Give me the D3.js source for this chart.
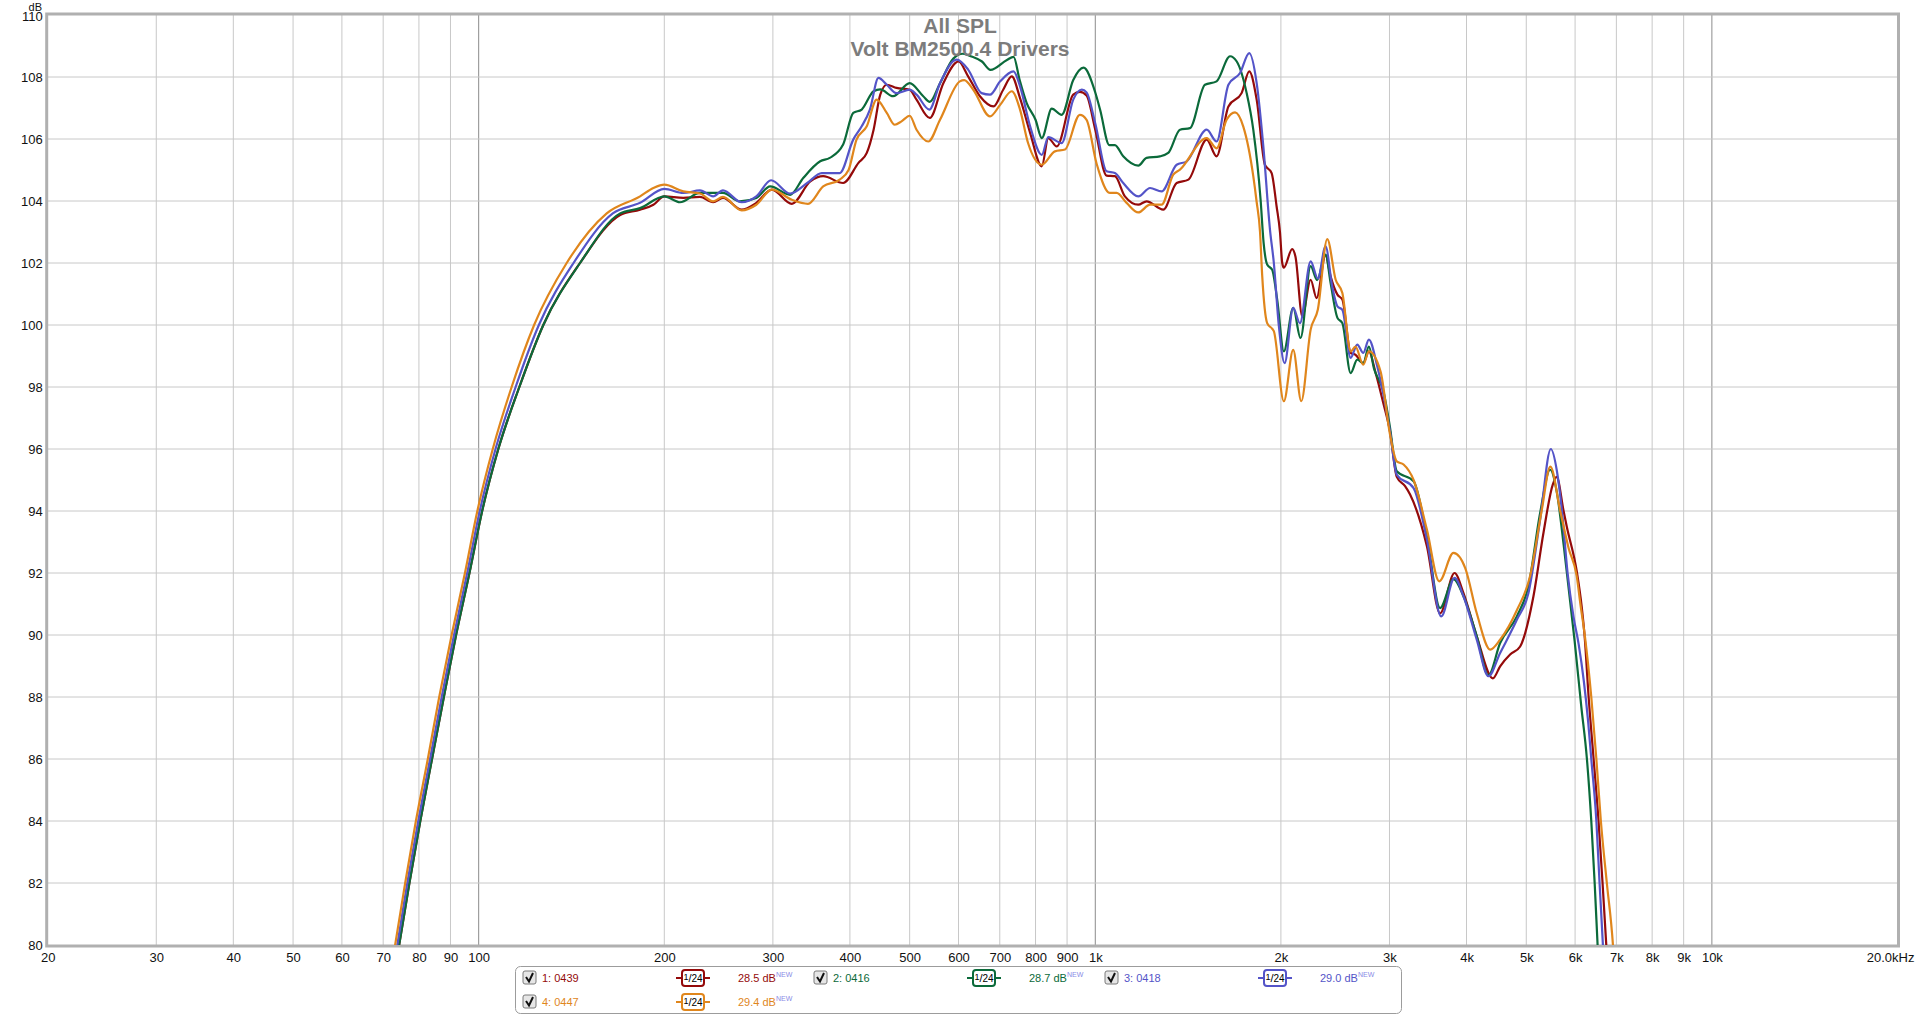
<!DOCTYPE html>
<html><head><meta charset="utf-8">
<script src="https://cdn.jsdelivr.net/npm/d3@7"></script>
<style>
body{margin:0;background:#fff;overflow:hidden}
text{font-family:Arial,"Liberation Sans",sans-serif}
</style>
</head><body>
<svg id="chart" width="1920" height="1016"></svg>
<script>
// ---------- data ----------
const titleLines = ["All SPL", "Volt BM2500.4 Drivers"];
const freqTicks = [20,30,40,50,60,70,80,90,100,200,300,400,500,600,700,800,900,1000,2000,3000,4000,5000,6000,7000,8000,9000,10000,20000];
const freqTickLabels = ["20","30","40","50","60","70","80","90","100","200","300","400","500","600","700","800","900","1k","2k","3k","4k","5k","6k","7k","8k","9k","10k","20.0kHz"];
const dbTicks = [80,82,84,86,88,90,92,94,96,98,100,102,104,106,108,110];
const seriesNames = ["1: 0439","2: 0416","3: 0418","4: 0447"];
const seriesLevels = ["28.5 dB","28.7 dB","29.0 dB","29.4 dB"];
const seriesColors = ["#940a0a","#0b6a3a","#5454c8","#e0861c"];

const freqRed = [70,74.3,77.2,80.4,84,87.8,91.9,96.6,101.3,107.6,116.4,127.3,146,169.6,182.7,192,200,214.7,228.5,240,249,267,282,298.8,322,345,362,390,413,426,437,448,459,476,500,513,539,567,600,622,650,684,709,732,755,784,819,839,866,921,944,968,1000,1043,1076,1117,1174,1211,1289,1355,1416,1516,1573,1644,1727,1777,1827,1884,1932,1968,1993,2010,2022,2086,2112,2166,2235,2285,2363,2408,2470,2516,2595,2642,2720,2778,2849,2930,3004,3083,3180,3240,3450,3624,3825,3955,4156,4413,4535,4707,4887,5136,5332,5520,5600,5748,5816,6038,6151,6215,6311,6430,6549,6648,6741,6900];
const splRed = [77.2,80,82,84,86,88,90,92,94,96,98,100,102,103.55,103.72,103.88,104.15,104.1,104.13,103.96,104.1,103.72,103.94,104.37,103.91,104.63,104.8,104.58,105.23,105.55,106.3,107.43,107.75,107.65,107.59,107.27,106.68,107.8,108.5,108.02,107.38,107.05,107.59,108.02,107.32,106.2,105.12,106.03,105.76,107.43,107.52,107.4,106.3,104.82,104.8,104.15,103.88,103.99,103.72,104.58,104.69,105.98,105.44,107.05,107.48,108.18,107.27,105.17,104.9,103.83,103.0,102.0,101.85,102.45,102.2,100.28,101.46,100.87,102.25,101.57,100.98,100.82,99.1,99.04,98.77,99.15,98.45,97.5,96.6,95.1,94.8,94.53,92.86,90.7,92.0,91.35,89.96,88.6,88.99,89.37,89.63,91.25,93.3,94.85,95.1,94.0,93.5,92.05,90.9,90.0,88.0,86.0,84.0,82.0,80.0,76.5];

const freqGreen = [70,74.3,77.2,80.4,84,87.8,91.9,96.6,101.3,107.6,116.4,127.3,146,169.6,182.7,200,212,228.5,249,265,282,297,320,336,358,371,390,405,418,437,448,470,500,526,539,560,589,610,630,655,676,719,737,754,774,800,819,850,882,921,957,1000,1018,1054,1076,1110,1174,1211,1273,1313,1372,1424,1506,1573,1654,1696,1760,1804,1854,1875,1900,1936,1973,2022,2094,2152,2235,2290,2363,2408,2470,2516,2595,2660,2720,2778,2831,2938,3004,3083,3283,3450,3624,3810,3955,4156,4341,4535,4827,5040,5266,5466,5605,5750,5850,5990,6140,6271,6374,6455,6526,6680];
const splGreen = [77.2,80,82,84,86,88,90,92,94,96,98,100,102,103.6,103.77,104.15,103.96,104.26,104.26,103.99,104.1,104.47,104.2,104.74,105.28,105.39,105.82,106.84,106.95,107.54,107.6,107.38,107.8,107.38,107.2,107.8,108.6,108.75,108.66,108.5,108.23,108.55,108.65,107.9,107.16,106.62,106.03,106.98,106.78,107.9,108.3,107.5,106.95,105.8,105.8,105.44,105.14,105.39,105.44,105.55,106.3,106.35,107.75,107.86,108.67,108.5,107.48,106.3,104.04,102.65,101.95,101.78,100.8,99.15,100.55,99.58,101.9,101.45,102.27,101.35,100.23,100.06,98.45,98.88,98.77,99.3,98.6,97.8,96.73,95.28,94.96,93.18,90.87,91.8,91.25,89.96,88.7,89.74,90.6,91.57,93.94,95.33,94.6,92.9,91.6,89.8,87.7,86.0,84.0,82.0,80.0,76.0];

const freqBlue = [70,73.8,76.6,79.8,83.4,87.1,91.2,95.8,100.4,106.5,114.8,125.2,142.5,165,182.7,200,214.7,228.5,240,249,267,282,298,320,341,360,385,405,418,431,445,459,476,500,513,538,560,596,622,654,675,701,737,755,784,819,839,882,921,951,968,1000,1043,1076,1110,1174,1227,1281,1355,1407,1516,1573,1644,1717,1777,1827,1873,1920,1948,1985,2028,2094,2147,2235,2296,2363,2422,2470,2516,2595,2660,2720,2778,2866,3004,3083,3283,3450,3639,3825,3955,4156,4341,4535,4827,5040,5266,5480,5605,5713,5834,5963,6081,6200,6300,6374,6496,6574,6657,6800];
const splBlue = [77.4,80,82,84,86,88,90,92,94,96,98,100,102,103.6,103.94,104.39,104.26,104.34,104.15,104.34,103.96,104.15,104.67,104.24,104.58,104.9,104.9,105.98,106.41,106.95,107.97,107.75,107.48,107.59,107.43,106.95,107.8,108.56,108.24,107.48,107.43,107.86,108.18,107.7,106.41,105.49,106.06,105.87,107.27,107.59,107.5,106.5,104.96,104.9,104.58,104.15,104.42,104.31,105.17,105.28,106.3,105.92,107.75,108.13,108.77,107.8,105.76,103.08,102.0,99.96,98.77,100.55,100.06,102.05,101.5,102.54,101.25,100.6,100.49,98.94,99.37,99.1,99.53,98.67,96.6,95.17,94.74,93.08,90.6,91.84,91.25,89.85,88.67,89.42,90.49,91.35,93.72,96.0,95.3,94.0,92.0,90.6,89.7,88.5,87.2,86.0,84.0,82.0,80.0,76.2];

const freqOrange = [70,73.2,76,79.1,82.7,86.3,90.4,95,99.5,105.4,113.1,123,138.9,161.3,182.7,192,200,214.7,228.5,240,249,267,282,298.8,322,342,362,385,398,410,426,442,459,473,485,500,513,536,560,603,613,634,675,701,732,755,778,819,860,893,944,968,1005,1056,1083,1124,1174,1227,1281,1338,1372,1516,1573,1633,1685,1738,1804,1826,1850,1865,1900,1948,2022,2094,2158,2235,2296,2378,2454,2516,2595,2642,2720,2778,2902,3004,3083,3162,3283,3450,3613,3810,3981,4156,4371,4535,4827,5072,5299,5470,5676,5857,6037,6120,6220,6374,6496,6606,6755,6911,7050];
const splOrange = [77.8,80,82,84,86,88,90,92,94,96,98,100,102,103.6,104.15,104.42,104.53,104.31,104.24,103.99,104.13,103.7,103.88,104.37,104.04,103.91,104.47,104.69,105.0,105.98,106.41,107.27,106.84,106.46,106.57,106.75,106.3,105.92,106.62,107.86,107.9,107.59,106.73,107.1,107.54,106.95,105.87,105.17,105.6,105.66,106.78,106.62,105.2,104.26,104.26,103.94,103.63,103.88,103.88,104.85,105.01,106.03,105.7,106.62,106.86,106.4,104.8,104.0,103.0,101.6,100.06,99.8,97.54,99.2,97.54,99.85,100.5,102.77,101.46,101.03,99.15,99.3,98.72,99.15,98.5,96.5,95.6,95.5,95.0,93.4,91.73,92.65,92.16,90.7,89.53,89.85,90.8,91.9,94.04,95.43,94.0,92.8,91.9,91.0,90.0,88.0,86.0,84.0,82.0,80.0,76.8];

const seriesFreqs = [freqRed, freqGreen, freqBlue, freqOrange];
const seriesSpls = [splRed, splGreen, splBlue, splOrange];

// ---------- drawing ----------
const svg = d3.select("#chart");
const L = 47.7, R = 1897.5, T = 15, B = 945;
const x = d3.scaleLog().domain([20, 20000]).range([L, R]);
const y = d3.scaleLinear().domain([80, 110]).range([B, T]);

svg.append("rect").attr("width",1920).attr("height",1016).attr("fill","#fff");

// grid
const grid = svg.append("g");
grid.selectAll("line.v").data(freqTicks.filter(f => f > 20 && f < 20000)).enter().append("line")
  .attr("x1", d => x(d)).attr("x2", d => x(d)).attr("y1", T).attr("y2", B)
  .attr("stroke", d => (d === 100 || d === 1000 || d === 10000) ? "#8c8c8c" : "#c8c8c8")
  .attr("stroke-width", 1);
grid.selectAll("line.h").data(dbTicks.filter(v => v > 80 && v < 110)).enter().append("line")
  .attr("x1", L).attr("x2", R).attr("y1", d => y(d)).attr("y2", d => y(d))
  .attr("stroke", "#c8c8c8").attr("stroke-width", 1);

// frame
svg.append("rect").attr("x", L-1).attr("y", T-1).attr("width", R-L+2).attr("height", B-T+2)
  .attr("fill","none").attr("stroke","#b0b0b0").attr("stroke-width",3);

// axes
const yAxis = svg.append("g").attr("transform", `translate(${L},0)`)
  .call(d3.axisLeft(y).tickValues(dbTicks).tickSize(0).tickPadding(5).tickFormat(d3.format("d")));
yAxis.select(".domain").remove();
yAxis.selectAll("text").attr("font-size", 13).attr("fill", "#111").style("font-family","Arial,'Liberation Sans',sans-serif");
yAxis.selectAll(".tick").filter(d => d === 110).select("text").attr("dy", "0.45em");

const xAxis = svg.append("g").attr("transform", `translate(0,${B})`)
  .call(d3.axisBottom(x).tickValues(freqTicks).tickSize(0).tickPadding(8).tickFormat((d,i) => freqTickLabels[i]));
xAxis.select(".domain").remove();
xAxis.selectAll("text").attr("font-size", 13).attr("fill", "#111").style("font-family","Arial,'Liberation Sans',sans-serif");
xAxis.selectAll(".tick").filter(d => d === 20000).select("text").attr("text-anchor","end").attr("x", 16.5);

svg.append("text").attr("x", 42).attr("y", 10.5).attr("text-anchor","end")
  .attr("font-size", 11).attr("fill","#111").text("dB");

// curves
svg.append("clipPath").attr("id","plotclip").append("rect")
  .attr("x", L).attr("y", T).attr("width", R-L).attr("height", B-T);
const line = d3.line().x(d => x(d[0])).y(d => y(d[1])).curve(d3.curveMonotoneX);
const curves = svg.append("g").attr("clip-path","url(#plotclip)");
seriesFreqs.forEach((fr, i) => {
  const pts = fr.map((f, j) => [f, seriesSpls[i][j]]);
  curves.append("path").datum(pts).attr("d", line)
    .attr("fill","none").attr("stroke", seriesColors[i]).attr("stroke-width", 2.2)
    .attr("stroke-linejoin","round");
});

// title
svg.append("text").attr("x", 960).attr("y", 33).attr("text-anchor","middle")
  .attr("font-size", 21).attr("font-weight","bold").attr("fill","#7c7c7c").text(titleLines[0]);
svg.append("text").attr("x", 960).attr("y", 56).attr("text-anchor","middle")
  .attr("font-size", 21).attr("font-weight","bold").attr("fill","#7c7c7c").text(titleLines[1]);

// legend
const lg = svg.append("g");
lg.append("rect").attr("x", 515.5).attr("y", 966.5).attr("width", 886).attr("height", 47)
  .attr("rx", 5).attr("fill","#fff").attr("stroke","#9c9c9c").attr("stroke-width",1);
seriesNames.forEach((name, i) => {
  const bx = 523 + (i % 3) * 291;
  const ry = 978 + Math.floor(i / 3) * 24;
  const c = seriesColors[i];
  const g = lg.append("g");
  g.append("rect").attr("x", bx).attr("y", ry-7).attr("width", 13).attr("height", 13).attr("rx", 2)
    .attr("fill","#e6e6e6").attr("stroke","#7a7a7a");
  g.append("path").attr("d", `M${bx+3},${ry-1} L${bx+6},${ry+3.5} L${bx+10},${ry-5}`)
    .attr("fill","none").attr("stroke","#111").attr("stroke-width",2);
  g.append("text").attr("x", bx+19).attr("y", ry+4).attr("font-size", 11).attr("fill", c).text(name);
  const cx = bx + 170;
  g.append("line").attr("x1", cx-17).attr("x2", cx+17).attr("y1", ry).attr("y2", ry)
    .attr("stroke", c).attr("stroke-width", 2);
  g.append("rect").attr("x", cx-11).attr("y", ry-8).attr("width", 22).attr("height", 16).attr("rx", 3)
    .attr("fill","#fff").attr("stroke", c).attr("stroke-width", 2);
  const t = g.append("text").attr("x", cx).attr("y", ry+4).attr("text-anchor","middle")
    .attr("font-size", 11).attr("fill","#000");
  t.append("tspan").attr("font-size", 9).attr("dy", -2).text("1");
  t.append("tspan").attr("dy", 2).text("/");
  t.append("tspan").attr("font-size", 10).text("24");
  const lt = g.append("text").attr("x", bx+215).attr("y", ry+4).attr("font-size", 11).attr("fill", c);
  lt.append("tspan").text(seriesLevels[i]);
  lt.append("tspan").attr("font-size", 7).attr("dy", -5).attr("fill","#8a8ae6").text("NEW");
});
</script>
</body></html>
